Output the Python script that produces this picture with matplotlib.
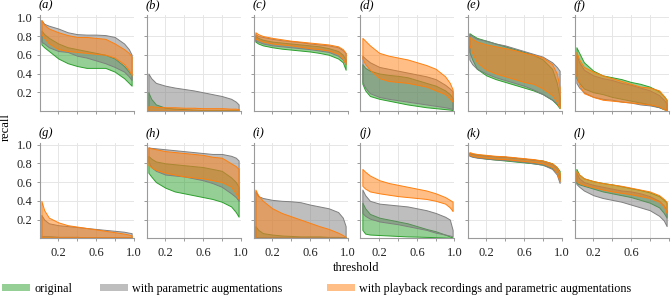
import matplotlib
matplotlib.use('Agg')
import matplotlib.pyplot as plt
from matplotlib.patches import Patch
from matplotlib.colors import to_rgba

plt.rcParams['font.family'] = ['Liberation Serif', 'DejaVu Serif']
plt.rcParams['font.size'] = 9

# ---------------- data ----------------
thresholds = [0.02, 0.05, 0.1, 0.2, 0.3, 0.4, 0.5, 0.6, 0.7, 0.8, 0.9, 0.95, 0.98]
panel_labels = ['(a)', '(b)', '(c)', '(d)', '(e)', '(f)',
                '(g)', '(h)', '(i)', '(j)', '(k)', '(l)']
series_names = ['original', 'with parametric augmentations',
                'with playback recordings and parametric augmentations']
series_colors = ['#2ca02c', '#7f7f7f', '#ff7f0e']
x_ticks = [0.2, 0.4, 0.6, 0.8, 1.0]
x_ticklabels = ['0.2', '', '0.6', '', '1.0']
y_ticks = [0.2, 0.4, 0.6, 0.8, 1.0]
y_ticklabels = ['0.2', '0.4', '0.6', '0.8', '1.0']

# each series: (lower bound, upper bound)
a_original = ([.71, .68, .64, .56, .51, .48, .46, .46, .46, .42, .35, .30, .27],
              [.86, .82, .78, .72, .68, .66, .64, .62, .60, .56, .48, .42, .38])
a_parametric = ([.74, .72, .68, .64, .63, .59, .57, .54, .51, .47, .42, .37, .33],
                [.97, .93, .91, .88, .84, .82, .815, .815, .81, .79, .72, .66, .60])
a_playback = ([.82, .78, .72, .66, .64, .63, .62, .61, .60, .57, .50, .44, .38],
              [.97, .92, .88, .84, .81, .79, .79, .78, .77, .72, .66, .62, .58])

b_original = ([0, 0, 0, 0, 0, 0, 0, 0, 0, 0, 0, 0, 0],
              [.20, .13, .07, .035, .025, .02, .015, .01, .01, .01, .01, .01, .01])
b_parametric = ([0, 0, 0, 0, 0, 0, 0, 0, 0, 0, 0, 0, 0],
                [.40, .35, .30, .27, .25, .235, .22, .20, .18, .16, .13, .10, .07])
b_playback = ([.003, .003, .003, .003, .003, .003, .003, .003, .003, .003, .003, .003, .003],
              [.05, .05, .045, .04, .04, .035, .035, .03, .03, .03, .025, .025, .02])

c_original = ([.74, .72, .70, .68, .665, .655, .645, .635, .62, .60, .56, .52, .44],
              [.80, .78, .76, .74, .73, .72, .71, .70, .69, .67, .64, .60, .55])
c_parametric = ([.75, .74, .72, .70, .69, .68, .67, .66, .645, .63, .59, .55, .50],
                [.82, .80, .79, .77, .755, .745, .735, .72, .71, .70, .68, .65, .62])
c_playback = ([.77, .76, .74, .72, .71, .70, .685, .67, .66, .645, .61, .56, .50],
              [.84, .82, .80, .78, .765, .75, .74, .73, .72, .71, .69, .66, .62])

d_original = ([.29, .22, .16, .13, .11, .09, .07, .055, .04, .03, .02, .015, .01],
              [.50, .46, .43, .40, .385, .375, .36, .33, .30, .27, .22, .18, .14])
d_parametric = ([.31, .25, .19, .15, .13, .115, .10, .085, .07, .055, .04, .03, .02],
                [.59, .56, .52, .47, .45, .43, .41, .39, .37, .34, .28, .24, .21])
d_playback = ([.56, .50, .44, .35, .32, .31, .30, .28, .26, .22, .18, .13, .10],
              [.78, .75, .70, .62, .59, .57, .55, .52, .49, .45, .37, .30, .23])

e_original = ([.63, .55, .45, .38, .34, .31, .28, .25, .22, .18, .12, .07, .03],
              [.83, .81, .78, .75, .72, .69, .66, .63, .60, .55, .45, .30, .15])
e_parametric = ([.55, .50, .45, .40, .36, .33, .30, .27, .23, .18, .12, .08, .04],
                [.82, .80, .77, .75, .72, .70, .67, .64, .61, .58, .52, .47, .43])
e_playback = ([.71, .62, .52, .44, .40, .37, .34, .31, .29, .24, .17, .10, .03],
              [.79, .77, .74, .71, .69, .67, .65, .62, .60, .57, .50, .40, .25])

f_original = ([.35, .30, .24, .20, .18, .15, .13, .11, .09, .07, .04, .02, .01],
              [.68, .62, .52, .43, .38, .36, .34, .31, .29, .26, .21, .16, .12])
f_parametric = ([.30, .25, .20, .15, .13, .12, .10, .09, .07, .06, .04, .02, .01],
                [.60, .52, .44, .38, .35, .33, .30, .28, .25, .22, .17, .12, .08])
f_playback = ([.38, .28, .19, .15, .12, .11, .10, .09, .08, .07, .05, .02, .01],
              [.63, .55, .47, .42, .38, .35, .32, .29, .26, .25, .22, .16, .12])

g_original = ([0, 0, 0, 0, 0, 0, 0, 0, 0, 0, 0, 0, 0],
              [.02, .02, .02, .015, .015, .015, .01, .01, .01, .01, .01, .01, .01])
g_parametric = ([.02, .02, .02, .015, .015, .015, .01, .01, .01, .01, .01, .01, .01],
                [.25, .20, .16, .14, .13, .12, .11, .10, .09, .08, .07, .06, .055])
g_playback = ([.01, .01, .01, .01, .01, .01, .01, .01, .01, .01, .01, .01, .01],
              [.40, .30, .22, .17, .14, .125, .11, .095, .08, .065, .05, .04, .03])

h_original = ([.70, .66, .60, .54, .50, .48, .46, .44, .42, .39, .34, .28, .23],
              [.88, .85, .82, .80, .79, .78, .77, .76, .74, .72, .65, .60, .55])
h_parametric = ([.82, .76, .72, .68, .67, .66, .64, .62, .59, .55, .48, .44, .40],
                [.97, .965, .96, .95, .94, .93, .92, .91, .90, .90, .88, .86, .83])
h_playback = ([.78, .76, .73, .70, .68, .66, .65, .64, .62, .60, .55, .48, .42],
              [.97, .96, .95, .93, .92, .91, .90, .89, .87, .86, .80, .77, .74])

i_original = ([.01, .01, .01, .01, .01, .01, .01, .01, .01, .01, .01, .01, .01],
              [.13, .09, .055, .04, .03, .025, .02, .02, .02, .015, .015, .01, .01])
i_parametric = ([.01, .01, .01, .01, .01, .01, .01, .01, .01, .01, .01, .01, .01],
                [.50, .45, .43, .41, .40, .395, .385, .36, .34, .32, .28, .22, .13])
i_playback = ([0, 0, 0, 0, 0, 0, 0, 0, 0, 0, 0, 0, 0],
              [.52, .46, .40, .32, .27, .235, .20, .165, .13, .10, .06, .035, .015])

j_original = ([.09, .05, .04, .035, .03, .025, .02, .018, .015, .012, .008, .005, .003],
              [.38, .32, .26, .22, .20, .18, .16, .13, .10, .075, .04, .02, .01])
j_parametric = ([.27, .24, .21, .18, .165, .15, .13, .11, .09, .06, .04, .03, .02],
                [.52, .46, .40, .37, .36, .35, .34, .32, .30, .27, .23, .20, .09])
j_playback = ([.56, .53, .50, .48, .465, .45, .44, .43, .42, .40, .37, .33, .29],
              [.74, .71, .67, .62, .59, .57, .55, .53, .51, .48, .44, .41, .39])

k_original = ([.885, .875, .865, .85, .84, .83, .82, .81, .80, .785, .75, .70, .63],
              [.91, .90, .895, .885, .875, .87, .86, .85, .84, .83, .80, .76, .72])
k_parametric = ([.88, .87, .86, .85, .84, .835, .825, .815, .80, .785, .74, .68, .59],
                [.91, .90, .89, .88, .875, .87, .86, .85, .84, .825, .79, .75, .68])
k_playback = ([.89, .88, .87, .86, .85, .845, .835, .825, .815, .80, .76, .70, .61],
              [.92, .91, .90, .89, .88, .875, .865, .855, .845, .83, .80, .76, .70])

l_original = ([.59, .575, .56, .53, .50, .48, .46, .44, .41, .38, .33, .27, .22],
              [.74, .68, .64, .61, .59, .575, .555, .535, .515, .49, .45, .41, .38])
l_parametric = ([.58, .55, .51, .46, .43, .41, .39, .36, .33, .30, .24, .19, .13],
                [.70, .64, .60, .57, .55, .53, .51, .50, .48, .45, .40, .35, .30])
l_playback = ([.61, .59, .57, .545, .52, .50, .485, .47, .45, .43, .39, .34, .27],
              [.72, .68, .64, .61, .59, .575, .56, .54, .52, .50, .46, .42, .39])

panels = [
    (a_original, a_parametric, a_playback),
    (b_original, b_parametric, b_playback),
    (c_original, c_parametric, c_playback),
    (d_original, d_parametric, d_playback),
    (e_original, e_parametric, e_playback),
    (f_original, f_parametric, f_playback),
    (g_original, g_parametric, g_playback),
    (h_original, h_parametric, h_playback),
    (i_original, i_parametric, i_playback),
    (j_original, j_parametric, j_playback),
    (k_original, k_parametric, k_playback),
    (l_original, l_parametric, l_playback),
]

# ---------------- figure ----------------
W, H = 671, 298
fig = plt.figure(figsize=(W / 100, H / 100), dpi=100)

ax_left0 = 39.5
ax_step = 107.0
ax_w = 94.0
ax_h = 95.6
row_bottoms = [111.0, 238.3]  # pixel y (from top) of value 0
spine_col = '#9a9a9a'
grid_col = '#e6e6e6'

for idx, series in enumerate(panels):
    row, col = divmod(idx, 6)
    left = (ax_left0 + col * ax_step) / W
    bottom = 1 - row_bottoms[row] / H
    ax = fig.add_axes([left, bottom, ax_w / W, ax_h / H])
    for (lo, hi), c in zip(series, series_colors):
        ax.fill_between(thresholds, lo, hi, facecolor=to_rgba(c, 0.5),
                        edgecolor=c, linewidth=0.7)
    ax.set_xlim(0, 1.0)
    ax.set_ylim(0, 1.02)
    ax.set_xticks(x_ticks)
    ax.set_yticks(y_ticks)
    if row == 1:
        if col == 5:
            ax.set_xticklabels(['0.2', '', '0.6', '', ''])
        else:
            ax.set_xticklabels(x_ticklabels)
    else:
        ax.set_xticklabels([])
    if col == 0:
        ax.set_yticklabels(y_ticklabels)
    else:
        ax.set_yticklabels([])
    ax.grid(True, color=grid_col, linewidth=0.7)
    ax.set_axisbelow(True)
    for s in ['top', 'right']:
        ax.spines[s].set_visible(False)
    for s in ['left', 'bottom']:
        ax.spines[s].set_color(spine_col)
        ax.spines[s].set_linewidth(0.8)
    ax.tick_params(length=2.5, width=0.7, color=spine_col, labelsize=9,
                   labelcolor='#222222')
    ax.tick_params(axis='x', pad=3.5)
    ax.tick_params(axis='y', pad=2.5)
    ax.text(-0.01, 1.04, panel_labels[idx], transform=ax.transAxes,
            ha='left', va='bottom', fontsize=9, fontstyle='italic')

fig.text(356 / W, 1 - 268 / H, 'threshold', ha='center', va='center', fontsize=9)
fig.text(6 / W, 1 - 127 / H, 'recall', ha='center', va='center',
         rotation=90, fontsize=9)

legend_x = [2.0, 100.0, 327.0]
for name, c, lx in zip(series_names, series_colors, legend_x):
    h = Patch(facecolor=to_rgba(c, 0.5), edgecolor='none')
    fig.legend([h], [name], loc='center left',
               bbox_to_anchor=(lx / W, 1 - 289 / H), frameon=False,
               fontsize=8.7, handlelength=2.35, handleheight=0.5,
               handletextpad=0.3, borderpad=0, borderaxespad=0)

fig.savefig('out.png', dpi=100)
